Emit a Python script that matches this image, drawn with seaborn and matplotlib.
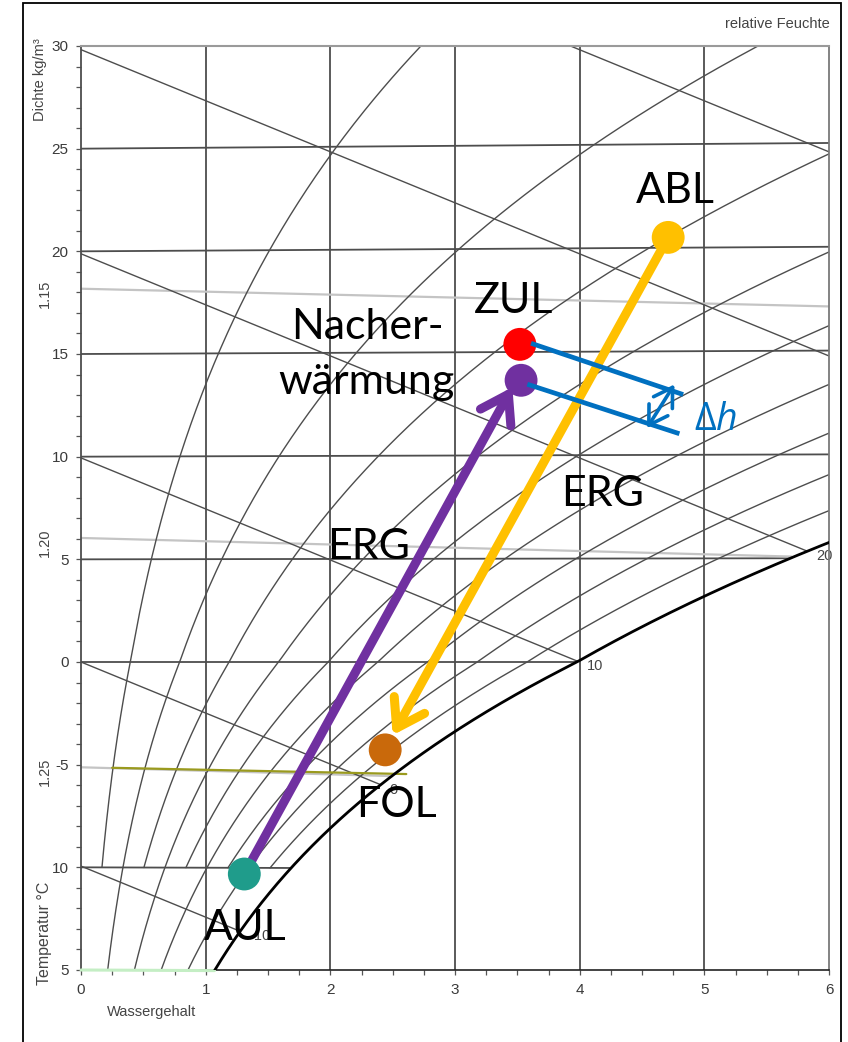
import numpy as np
import pandas as pd
import matplotlib
matplotlib.use("Agg")
import matplotlib.pyplot as plt
from matplotlib import font_manager
from matplotlib.patches import Rectangle, ArrowStyle
from matplotlib.ticker import MultipleLocator, FixedLocator, FixedFormatter
import seaborn as sns

# ---------------------------------------------------------------- data
PRESSURE = 96170.0          # Pa, chart pressure
WATER_TICKS = [0, 1, 2, 3, 4, 5, 6]
TEMP_TICKS = [30, 25, 20, 15, 10, 5, 0, -5, -10, -15]
TEMP_TICK_LABELS = ["30", "25", "20", "15", "10", "5", "0", "-5", "10", "5"]
ISOTHERMS = [-10, 0, 5, 10, 15, 20, 25]
REL_HUMIDITY = [0.1, 0.2, 0.3, 0.4, 0.5, 0.6, 0.7, 0.8, 0.9]
ENTHALPIES = [-10, 0, 10, 20, 30, 40]
ENTHALPY_LABELED = [-10, 0, 10, 20]
ENTHALPY_LABELS = ["-10", "0", "10", "20"]
DENSITIES = [1.15, 1.20, 1.25]
DENSITY_LABELS = ["1.15", "1.20", "1.25"]

# air states: water content g/kg, temperature °C
STATE_NAMES = ["AUL", "FOL", "ZUL", "NE", "ABL"]
STATE_X = [1.31, 2.44, 3.52, 3.53, 4.71]
STATE_T = [-10.30, -4.26, 15.37, 13.63, 20.50]
STATE_COLORS = ["#1F9C8B", "#C9690B", "#FF0000", "#7030A0", "#FFC000"]

# heat recovery paths (start, arrow tip)
ERG_SUPPLY_X = [1.31, 3.46]
ERG_SUPPLY_T = [-10.30, 13.30]
ERG_EXHAUST_X = [4.71, 2.50]
ERG_EXHAUST_T = [20.50, -3.55]

# enthalpy difference of the reheater
DH_UPPER_X = [3.61, 4.83]
DH_UPPER_T = [15.42, 12.91]
DH_LOWER_X = [3.58, 4.80]
DH_LOWER_T = [13.44, 11.02]
DH_ARROW_X = [4.76, 4.54]
DH_ARROW_T = [13.40, 11.30]


# ---------------------------------------------------------- psychrometrics
def p_sat(t):
    t = np.asarray(t, dtype=float)
    water = 611.2 * np.exp(17.62 * t / (243.12 + t))
    ice = 611.2 * np.exp(22.46 * t / (272.62 + t))
    return np.where(t >= 0, water, ice)


def water_content(t, phi):
    ps = phi * p_sat(t)
    return 622.0 * ps / (PRESSURE - ps)


def chart_y(t, x):
    """Mollier ordinate, scaled so that it equals t at x = 0."""
    t = np.asarray(t, dtype=float)
    x = np.asarray(x, dtype=float)
    return t * (1.006 + 0.00186 * x) / 1.006


def enthalpy_y(h, x):
    return (h - 2.501 * np.asarray(x)) / 1.006


# ------------------------------------------------------------------ fonts
available = {f.name for f in font_manager.fontManager.ttflist}
axis_font = "Liberation Sans" if "Liberation Sans" in available else "DejaVu Sans"
label_font = "Lato" if "Lato" in available else "DejaVu Sans"

sns.set_theme(style="white")
plt.rcParams["font.family"] = [axis_font, "DejaVu Sans"]
plt.rcParams["mathtext.fontset"] = "custom"
plt.rcParams["mathtext.rm"] = "Open Sans"
plt.rcParams["mathtext.it"] = "Open Sans:italic"

W, H = 848, 1042
fig = plt.figure(figsize=(W / 100, H / 100), dpi=100, facecolor="white")
ax = fig.add_axes([81 / W, 1 - 970 / H, (829 - 81) / W, (970 - 46) / H])
ax.set_facecolor("white")

GRID = "#4d4d4d"

# vertical water-content lines
for xv in WATER_TICKS[1:-1]:
    ax.axvline(xv, color=GRID, lw=1.3, zorder=1)

# isotherms up to saturation
for t in ISOTHERMS:
    x_end = min(6.0, float(water_content(t, 1.0)))
    xs = np.linspace(0, x_end, 50)
    ax.plot(xs, chart_y(t, xs), color=GRID, lw=1.3, zorder=1)

# -5 °C isotherm (highlighted) and -15 °C isotherm
xs = np.linspace(0.25, float(water_content(-5, 1.0)), 50)
ax.plot(xs, chart_y(-5, xs) - 0.12 - 0.12 * xs, color="#9A9A1E", lw=1.6, zorder=2)
xs = np.linspace(0, float(water_content(-15, 1.0)), 50)
ax.plot(xs, chart_y(-15, xs), color="#C4EEC4", lw=2.2, zorder=3, clip_on=False)

# density lines
R_D = 287.05
for rho, lab in zip(DENSITIES, DENSITY_LABELS):
    xs = np.linspace(0, 6, 200)
    T = PRESSURE * (1 + xs / 1000) / (R_D * rho * (1 + 1.608 * xs / 1000))
    t = T - 273.15
    keep = xs <= water_content(t, 1.0)
    ax.plot(xs[keep], chart_y(t[keep], xs[keep]), color="#C4C4C4", lw=1.6, zorder=1)
    ax.annotate(lab, xy=(0, chart_y(t[0], 0)), xytext=(-26, -3.6),
                textcoords="offset points", rotation=90, ha="center", va="center",
                fontsize=10.5, color="#444444", annotation_clip=False)

# relative humidity curves
rows = []
for phi in REL_HUMIDITY:
    t0 = -15 if round(phi * 10) % 2 == 0 else -10
    t = np.linspace(t0, 32, 400)
    x = water_content(t, phi)
    rows.append(pd.DataFrame({"x": x, "y": chart_y(t, x), "phi": phi}))
rh = pd.concat(rows, ignore_index=True)
sns.lineplot(data=rh, x="x", y="y", units="phi", estimator=None, sort=False,
             color=GRID, lw=1.0, ax=ax, zorder=1)

# saturation curve
t_sat = np.linspace(-16, 7, 400)
x_sat = water_content(t_sat, 1.0)
sns.lineplot(x=x_sat, y=chart_y(t_sat, x_sat), sort=False, color="black",
             lw=2.0, ax=ax, zorder=3)

# isenthalps up to saturation
h_sat = 1.006 * t_sat + x_sat * (2.501 + 0.00186 * t_sat)
for h in ENTHALPIES:
    x_end = min(6.0, float(np.interp(h, h_sat, x_sat)))
    x_start = max(0.0, (h - 1.006 * 30) / 2.501)
    xs = np.linspace(x_start, x_end, 50)
    ax.plot(xs, enthalpy_y(h, xs), color=GRID, lw=1.0, zorder=1)
for h, lab in zip(ENTHALPY_LABELED, ENTHALPY_LABELS):
    xe = float(np.interp(h, h_sat, x_sat))
    ax.annotate(lab, xy=(xe, enthalpy_y(h, xe)), xytext=(6.5, -3.6),
                textcoords="offset points", ha="left", va="center",
                fontsize=10.5, color="#444444", zorder=2)

# ------------------------------------------------------- process overlay
def arrow(xs, ts, color, lw, hl, hw, style="->", z=4):
    start = (xs[0], float(chart_y(ts[0], xs[0])))
    tip = (xs[1], float(chart_y(ts[1], xs[1])))
    ann = ax.annotate("", xy=tip, xytext=start,
                      arrowprops=dict(arrowstyle=ArrowStyle(style, head_length=hl,
                                                            head_width=hw),
                                      color=color, lw=lw, shrinkA=0, shrinkB=0,
                                      capstyle="round", joinstyle="round",
                                      mutation_scale=10))
    ann.set_zorder(z)
    ann.arrow_patch.set_zorder(z)


arrow(ERG_SUPPLY_X, ERG_SUPPLY_T, "#7030A0", 6.5, 1.9, 1.25)
arrow(ERG_EXHAUST_X, ERG_EXHAUST_T, "#FFC000", 6.5, 1.9, 1.25)

states = pd.DataFrame({"name": STATE_NAMES, "x": STATE_X, "t": STATE_T})
states["y"] = chart_y(states["t"], states["x"])
sns.scatterplot(data=states, x="x", y="y", hue="name",
                palette=dict(zip(STATE_NAMES, STATE_COLORS)), s=560,
                edgecolor="none", linewidth=0, legend=False, ax=ax, zorder=5)

BLUE = "#0070C0"
for xs, ts in [(DH_UPPER_X, DH_UPPER_T), (DH_LOWER_X, DH_LOWER_T)]:
    ax.plot(xs, chart_y(ts, xs), color=BLUE, lw=3.4, zorder=6,
            solid_capstyle="butt")
arrow(DH_ARROW_X, DH_ARROW_T, BLUE, 2.6, 1.3, 0.8, style="<->", z=6)

# process labels
lab = dict(fontsize=31, family=[label_font, "DejaVu Sans"], color="black",
           ha="center", va="baseline", zorder=7)
ax.text(4.771, 22.34, "ABL", **lab)
ax.text(3.470, 16.98, "ZUL", **lab)
ax.text(2.297, 15.72, "Nacher-", **lab)
ax.text(2.289, 13.04, "wärmung", **lab)
ax.text(2.305, 5.01, "ERG", **lab)
ax.text(4.185, 7.59, "ERG", **lab)
ax.text(2.530, -7.55, "FOL", **lab)
ax.text(1.317, -13.53, "AUL", **lab)
ax.text(5.092, 11.29, r"$\Delta h$", fontsize=27, color=BLUE,
        ha="center", va="baseline", zorder=7)

# ------------------------------------------------------------- axes style
ax.set_xlim(0, 6)
ax.set_ylim(-15, 30)
for side, col, lw in [("left", GRID, 1.3), ("right", "#7a7a7a", 1.3),
                      ("top", "#9a9a9a", 1.5), ("bottom", "#222222", 1.2)]:
    ax.spines[side].set_visible(True)
    ax.spines[side].set_color(col)
    ax.spines[side].set_linewidth(lw)

ax.xaxis.set_major_locator(FixedLocator(WATER_TICKS))
ax.xaxis.set_minor_locator(MultipleLocator(0.25))
ax.yaxis.set_major_locator(FixedLocator(TEMP_TICKS))
ax.yaxis.set_major_formatter(FixedFormatter(TEMP_TICK_LABELS))
ax.yaxis.set_minor_locator(MultipleLocator(1))
ax.tick_params(which="both", direction="out", length=3.4, width=0.9,
               color="#555555", labelsize=11, labelcolor="#3a3a3a")
ax.tick_params(axis="x", which="both", bottom=True, pad=6)
ax.tick_params(axis="y", which="both", left=True, pad=5.5)
ax.set_xlabel("")
ax.set_ylabel("")
ax.grid(False)

fig.text(152 / W, 1 - 1012 / H, "Wassergehalt", ha="center", va="center",
         fontsize=10.5, color="#444444")
fig.text(40 / W, 1 - 80 / H, "Dichte kg/m³", ha="center", va="center",
         rotation=90, fontsize=10.5, color="#444444")
fig.text(45 / W, 1 - 933 / H, "Temperatur °C", ha="center", va="center",
         rotation=90, fontsize=11.5, color="#444444")
fig.text(830 / W, 1 - 24 / H, "relative Feuchte", ha="right", va="center",
         fontsize=10.5, color="#444444")

# outer frame
fig.patches.append(Rectangle((23 / W, -0.02), (841 - 23) / W, 1.02 - 3 / H,
                             transform=fig.transFigure, fill=False,
                             edgecolor="black", lw=1.3))

fig.savefig("out.png", dpi=100, facecolor="white")
